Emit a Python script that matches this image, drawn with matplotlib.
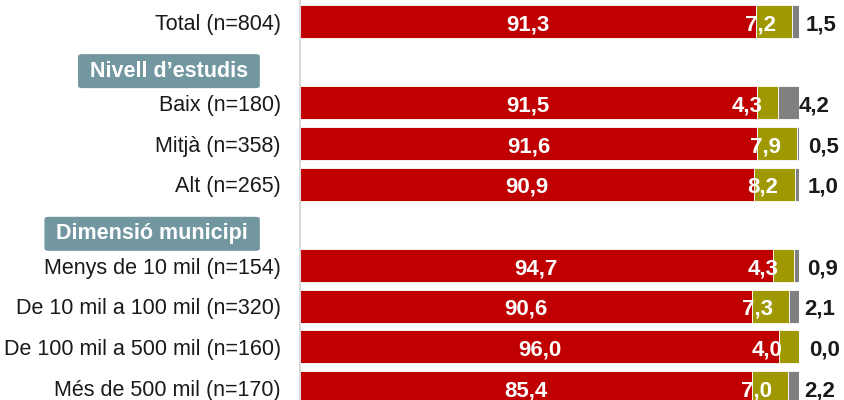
import matplotlib.pyplot as plt
from matplotlib.transforms import ScaledTranslation

plt.rcParams['font.family'] = ['Liberation Sans', 'DejaVu Sans']

# rows from top to bottom; None marks a section header slot
rows = ['Total (n=804)', None, 'Baix (n=180)', 'Mitjà (n=358)', 'Alt (n=265)',
        None, 'Menys de 10 mil (n=154)', 'De 10 mil a 100 mil (n=320)',
        'De 100 mil a 500 mil (n=160)', 'Més de 500 mil (n=170)']
headers = ['Nivell d\u2019estudis', 'Dimensió municipi']

# bar lengths as drawn (%)
red_vals = [91.3, None, 91.5, 91.6, 90.9, None, 94.7, 90.6, 96.0, 90.6]
olive_vals = [7.2, None, 4.3, 7.9, 8.2, None, 4.3, 7.3, 4.0, 7.2]
gray_vals = [1.5, None, 4.2, 0.5, 1.0, None, 0.9, 2.1, 0.0, 2.2]

# labels as printed on the chart
red_labels = ['91,3', None, '91,5', '91,6', '90,9', None, '94,7', '90,6', '96,0', '85,4']
olive_labels = ['7,2', None, '4,3', '7,9', '8,2', None, '4,3', '7,3', '4,0', '7,0']
gray_labels = ['1,5', None, '4,2', '0,5', '1,0', None, '0,9', '2,1', '0,0', '2,2']

RED = '#C00000'
OLIVE = '#A09800'
GRAY = '#808080'
HEAD = '#7397A1'

fig = plt.figure(figsize=(8.45, 4.0), dpi=100)
ax = fig.add_axes([300 / 845, 0, 499 / 845, 1])

px = lambda dx, dy=0: ScaledTranslation(dx / 100, dy / 100, fig.dpi_scale_trans)

h = 0.81
for i, name in enumerate(rows):
    if name is None:
        continue
    r, o, g = red_vals[i], olive_vals[i], gray_vals[i]
    ax.barh(i, r, height=h, color=RED, edgecolor='white', linewidth=0.6)
    ax.barh(i, o, left=r, height=h, color=OLIVE, edgecolor='white', linewidth=0.6)
    ax.barh(i, g, left=r + o, height=h, color=GRAY, edgecolor='white', linewidth=0.6)
    ax.text(r / 2, i, red_labels[i], ha='center', va='center', color='white',
            fontsize=16, fontweight='bold', transform=ax.transData + px(0, -3))
    ax.text(r + o, i, olive_labels[i], ha='right', va='center', color='white',
            fontsize=16, fontweight='bold', transform=ax.transData + px(-16, -3))
    ax.text(r + o + g / 2, i, gray_labels[i], ha='center', va='center', color='#1a1a1a',
            fontsize=16, fontweight='bold', transform=ax.transData + px(26, -3))

# section headers
head_slots = [k for k, n in enumerate(rows) if n is None]
for slot, text in zip(head_slots, headers):
    ax.text(0, slot + 0.22, text, ha='right', va='center', color='white',
            fontsize=15.5, fontweight='bold',
            transform=ax.get_yaxis_transform() + px(-52),
            bbox=dict(boxstyle='round,pad=0.55,rounding_size=0.2', fc=HEAD, ec='none',
                      mutation_aspect=0.55))

ax.set_yticks([k for k, n in enumerate(rows) if n is not None])
ax.set_yticklabels([n for n in rows if n is not None], fontsize=15.5, color='#1a1a1a')
ax.tick_params(axis='y', length=0, pad=13.7)
ax.set_xticks([])
ax.set_xlim(0, 100)
ax.set_ylim(9.307, -0.529)
for s in ['top', 'right', 'bottom']:
    ax.spines[s].set_visible(False)
ax.spines['left'].set_color('#d9d9d9')
ax.spines['left'].set_linewidth(1.5)
ax.patch.set_visible(False)

fig.savefig('out.png', dpi=100)
